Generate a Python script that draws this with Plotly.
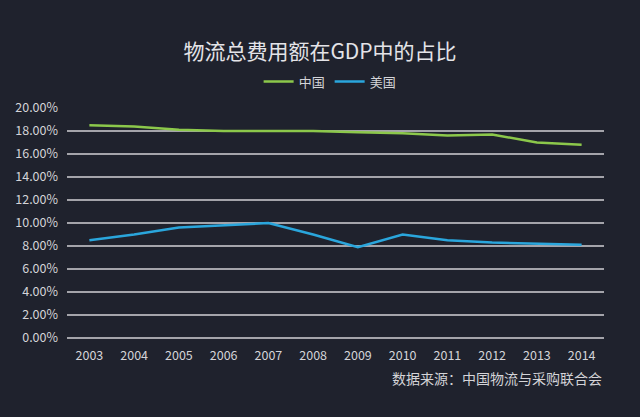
import plotly.graph_objects as go

years = ["2003", "2004", "2005", "2006", "2007", "2008", "2009", "2010", "2011", "2012", "2013", "2014"]
china = [18.5, 18.4, 18.1, 18.0, 18.0, 18.0, 17.9, 17.8, 17.6, 17.7, 17.0, 16.8]
usa = [8.5, 9.0, 9.6, 9.8, 10.0, 9.0, 7.9, 9.0, 8.5, 8.3, 8.2, 8.1]
y_ticks = [0, 2, 4, 6, 8, 10, 12, 14, 16, 18, 20]

FONT = "Noto Sans CJK SC, Noto Sans, sans-serif"
BG = "#1f222d"

fig = go.Figure()
fig.add_trace(go.Scatter(x=years, y=china, mode="lines", name="中国",
                         line=dict(color="#8cc84b", width=2.5)))
fig.add_trace(go.Scatter(x=years, y=usa, mode="lines", name="美国",
                         line=dict(color="#2aa6dc", width=2.5)))

fig.update_layout(
    width=640, height=417,
    paper_bgcolor=BG, plot_bgcolor=BG,
    margin=dict(l=67, r=36, t=108, b=79),
    font=dict(family=FONT, color="#d4d4d8", size=12),
    title=dict(text="物流总费用额在GDP中的占比", x=0.5, xanchor="center",
               y=0.875, yanchor="middle",
               font=dict(size=21, color="#e4e4e8", family=FONT)),
    legend=dict(orientation="h", x=0.49, xanchor="center", y=1.115, yanchor="middle",
                font=dict(size=13, color="#d4d4d8"), bgcolor="rgba(0,0,0,0)",
                itemwidth=30),
    showlegend=True,
    xaxis=dict(type="category", range=[-0.5, 11.5], showgrid=False, zeroline=False,
               showline=False, ticks="", ticklabelstandoff=8,
               tickfont=dict(size=12.5, color="#d4d4d8")),
    yaxis=dict(range=[0, 20], tickvals=y_ticks, ticktext=[f"{v:.2f}%" for v in y_ticks],
               showgrid=True, gridcolor="#a4a4aa", gridwidth=1.5,
               zeroline=True, zerolinecolor="#a4a4aa", zerolinewidth=1.5,
               showline=False, ticks="", ticklabelstandoff=8,
               tickfont=dict(size=12.5, color="#d4d4d8")),
    annotations=[dict(text="数据来源：中国物流与采购联合会", xref="paper", yref="paper",
                      x=1.0, xanchor="right", y=-0.174, yanchor="middle",
                      showarrow=False, font=dict(size=14, color="#d4d4d8", family=FONT))],
)

fig.write_html("out.html", config={"displayModeBar": False},
               post_script="document.body.style.margin='0';")
